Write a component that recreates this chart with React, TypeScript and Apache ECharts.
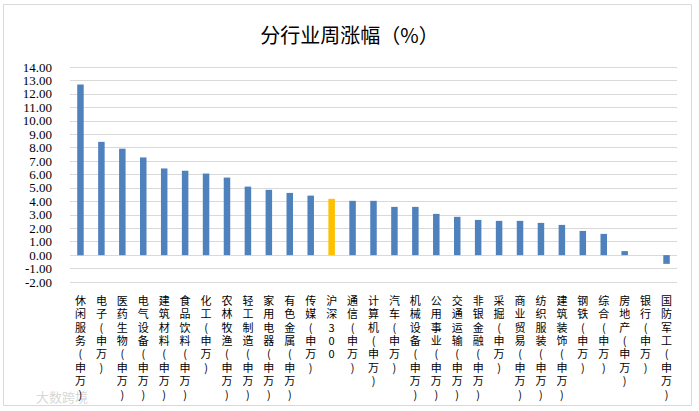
import React, { useEffect, useRef } from "react";
import * as echarts from "echarts";

const categories = [
  "休闲服务(申万)", "电子(申万)", "医药生物(申万)", "电气设备(申万)", "建筑材料(申万)",
  "食品饮料(申万)", "化工(申万)", "农林牧渔(申万)", "轻工制造(申万)", "家用电器(申万)",
  "有色金属(申万)", "传媒(申万)", "沪深300", "通信(申万)", "计算机(申万)",
  "汽车(申万)", "机械设备(申万)", "公用事业(申万)", "交通运输(申万)", "非银金融(申万)",
  "采掘(申万)", "商业贸易(申万)", "纺织服装(申万)", "建筑装饰(申万)", "钢铁(申万)",
  "综合(申万)", "房地产(申万)", "银行(申万)", "国防军工(申万)",
];

const values = [
  12.7, 8.43, 7.92, 7.27, 6.45,
  6.28, 6.07, 5.77, 5.1, 4.86,
  4.63, 4.43, 4.19, 4.04, 4.04,
  3.59, 3.59, 3.07, 2.85, 2.62,
  2.55, 2.55, 2.4, 2.25, 1.8,
  1.58, 0.3, 0.0, -0.65,
];

const highlightCategory = "沪深300";
const title = "分行业周涨幅（%）";
const watermark = "大数跨境";

export default function App() {
  const ref = useRef<HTMLDivElement>(null);
  useEffect(() => {
    if (!ref.current) return;
    const chart = echarts.init(ref.current, undefined, { renderer: "svg" });
    chart.setOption({
      animation: false,
      backgroundColor: "#fff",
      title: {
        text: title,
        left: "center",
        top: 19,
        textStyle: {
          fontFamily: "Noto Sans CJK SC",
          fontSize: 20,
          fontWeight: "normal",
          color: "#000",
        },
      },
      graphic: [
        {
          type: "rect",
          shape: { x: 3.5, y: 4.5, width: 688, height: 401 },
          style: { fill: "none", stroke: "#D9D9D9", lineWidth: 1 },
          silent: true,
        },
        {
          type: "text",
          left: 36,
          top: 390,
          style: {
            text: watermark,
            fontFamily: "Noto Sans CJK SC",
            fontSize: 13,
            fill: "rgba(180,180,180,0.55)",
          },
          silent: true,
        },
      ],
      grid: { left: 70, right: 22, top: 67, bottom: 129, containLabel: false },
      xAxis: {
        type: "category",
        data: categories,
        axisLine: { show: false },
        axisTick: { show: false },
        axisLabel: {
          interval: 0,
          margin: 11,
          fontFamily: "Noto Sans CJK SC",
          fontSize: 11,
          lineHeight: 13.4,
          color: "#000",
          formatter: (v: string) => v.split("").join("\n"),
        },
      },
      yAxis: {
        type: "value",
        min: -2,
        max: 14,
        interval: 1,
        axisLine: { show: false },
        axisTick: { show: false },
        splitLine: { lineStyle: { color: "#D9D9D9", width: 1 } },
        axisLabel: {
          margin: 18,
          showMinLabel: true,
          showMaxLabel: true,
          hideOverlap: false,
          fontFamily: "Liberation Serif",
          fontSize: 13,
          lineHeight: 13,
          color: "#000",
          formatter: (v: number) => v.toFixed(2),
        },
      },
      series: [
        {
          type: "bar",
          barWidth: 6.5,
          data: values.map((v, i) => ({
            value: v,
            itemStyle: {
              color: categories[i] === highlightCategory ? "#FFC000" : "#4F81BD",
            },
          })),
        },
      ],
    });
    return () => chart.dispose();
  }, []);
  return (
    <div
      ref={ref}
      style={{ position: "absolute", left: 0, top: 0, width: 699, height: 411 }}
    />
  );
}
